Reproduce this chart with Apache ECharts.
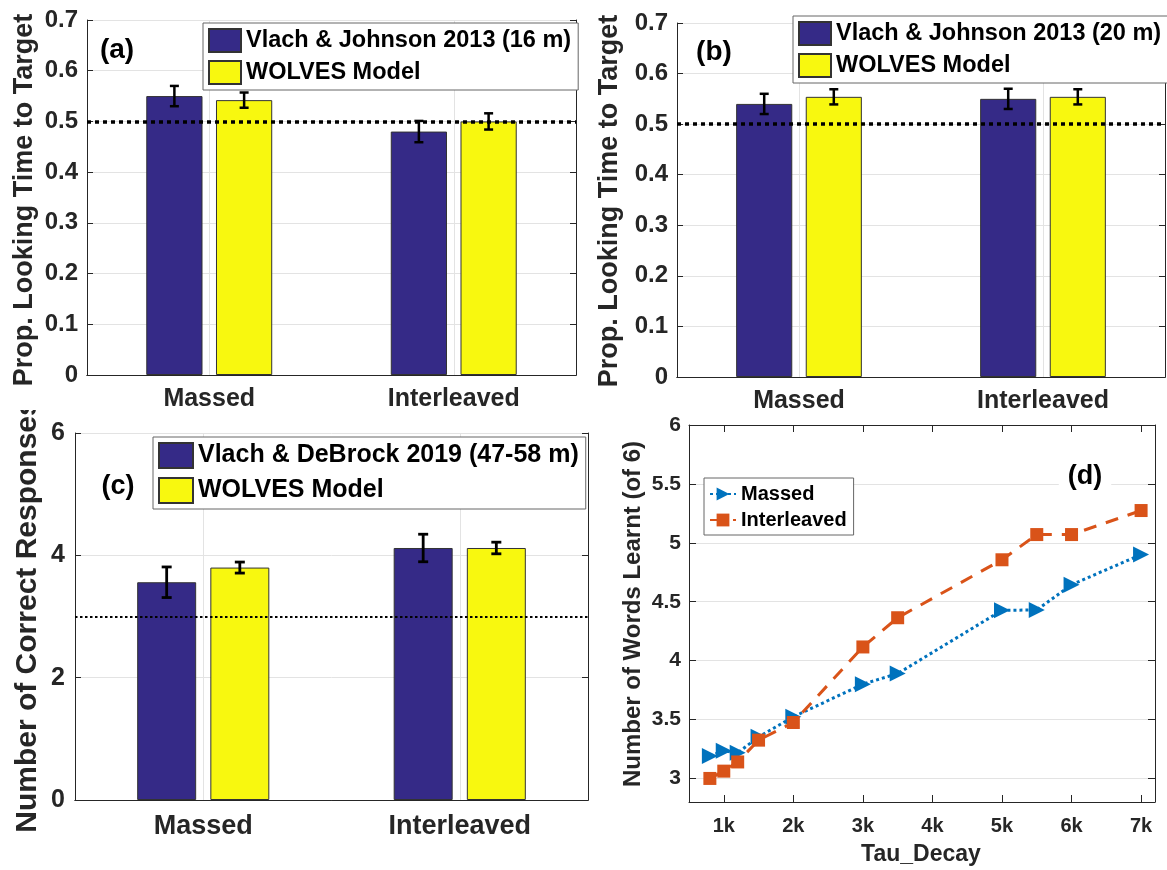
<!DOCTYPE html>
<html>
<head>
<meta charset="utf-8">
<script src="https://cdn.jsdelivr.net/npm/echarts@6/dist/echarts.min.js"></script>
<style>
  html, body { margin: 0; padding: 0; background: #fff; }
  #chart { width: 1167px; height: 870px; }
</style>
</head>
<body>
<div id="chart"></div>
<script>
// ---- data ----
const groups = ['Massed', 'Interleaved'];

// (a) 16-month-olds: proportion of looking time to target
const vj16 = [0.550, 0.480];
const vj16Err = [0.020, 0.021];
const wolves16 = [0.542, 0.500];
const wolves16Err = [0.015, 0.016];

// (b) 20-month-olds
const vj20 = [0.540, 0.550];
const vj20Err = [0.020, 0.020];
const wolves20 = [0.554, 0.554];
const wolves20Err = [0.015, 0.015];

// (c) number of correct responses (of 6)
const vd = [3.56, 4.12];
const vdErr = [0.25, 0.225];
const wolvesC = [3.80, 4.12];
const wolvesCErr = [0.09, 0.095];

const chanceLooking = 0.5;
const chanceCorrect = 3;

// (d) words learnt vs. decay time constant
const tauDecay = [800, 1000, 1200, 1500, 2000, 3000, 3500, 5000, 5500, 6000, 7000];
const massedWords = [3.19, 3.234, 3.217, 3.353, 3.523, 3.80, 3.89, 4.427, 4.43, 4.644, 4.90];
const interleavedWords = [3.00, 3.062, 3.14, 3.325, 3.475, 4.116, 4.364, 4.856, 5.07, 5.07, 5.274];
const tauTicks = [1000, 2000, 3000, 4000, 5000, 6000, 7000];
const wordTicks = [3, 3.5, 4, 4.5, 5, 5.5, 6];

// ---- styling ----
const FONT = '"Liberation Sans", Arial, Helvetica, sans-serif';
const AX = '#262626';
const GRIDC = '#e3e3e3';
const BLUE = '#352A87';
const YELLOW = '#F8F80F';
const BAR_FRAC = 0.23;
const GAP_FRAC = 0.24;

const names = {
  a: 'Vlach & Johnson 2013 (16 m)',
  b: 'Vlach & Johnson 2013 (20 m)',
  c: 'Vlach & DeBrock 2019 (47-58 m)',
  w: 'WOLVES Model'
};

function catAxes(grid, labelSize, labelMargin) {
  return [
    {
      type: 'category', gridIndex: grid, data: groups, position: 'bottom',
      axisLine: { lineStyle: { color: AX, width: 1 } },
      axisTick: { inside: true, alignWithLabel: true, length: 6, lineStyle: { color: AX } },
      axisLabel: { color: AX, fontSize: labelSize, fontWeight: 'bold', fontFamily: FONT, margin: labelMargin },
      splitLine: { show: false }
    },
    {
      type: 'category', gridIndex: grid, data: groups, position: 'top',
      axisLine: { show: true, lineStyle: { color: AX, width: 1 } },
      axisTick: { inside: true, alignWithLabel: true, length: 6, lineStyle: { color: AX } },
      axisLabel: { show: false },
      splitLine: { show: false }
    }
  ];
}

function valAxes(grid, min, max, interval, labelSize, margin) {
  return [
    {
      type: 'value', gridIndex: grid, position: 'left', min: min, max: max, interval: interval,
      axisLine: { show: true, lineStyle: { color: AX, width: 1 } },
      axisTick: { show: true, inside: true, length: 6, lineStyle: { color: AX } },
      axisLabel: { color: AX, fontSize: labelSize, fontWeight: 'bold', fontFamily: FONT, margin: margin },
      splitLine: { show: true, lineStyle: { color: GRIDC, width: 1 } }
    },
    {
      type: 'value', gridIndex: grid, position: 'right', min: min, max: max, interval: interval,
      axisLine: { show: true, lineStyle: { color: AX, width: 1 } },
      axisTick: { show: true, inside: true, length: 6, lineStyle: { color: AX } },
      axisLabel: { show: false },
      splitLine: { show: false }
    }
  ];
}

function barSeries(name, color, vals, xi, yi, extraMark) {
  return {
    type: 'bar', name: name, xAxisIndex: xi, yAxisIndex: yi, data: vals,
    barWidth: (BAR_FRAC * 100) + '%', barGap: (GAP_FRAC * 100) + '%',
    itemStyle: { color: color, borderColor: '#333', borderWidth: 1 },
    silent: true, animation: false, z: 2,
    markLine: extraMark
  };
}

// light vertical grid lines through the category centres, behind the bars
function categoryGrid(xi, yi) {
  return {
    type: 'custom', xAxisIndex: xi, yAxisIndex: yi, z: 1, silent: true, animation: false,
    data: groups.map((g, i) => [i, 0]),
    encode: { x: 0, y: 1 },
    renderItem: function (params, api) {
      const cs = params.coordSys;
      const x = Math.round(api.coord([api.value(0), 0])[0]) + 0.5;
      return {
        type: 'line',
        shape: { x1: x, y1: cs.y, x2: x, y2: cs.y + cs.height },
        style: { stroke: GRIDC, lineWidth: 1 }
      };
    }
  };
}

function chanceMark(v, width, dash) {
  return {
    silent: true, symbol: 'none', animation: false,
    label: { show: false },
    lineStyle: { color: '#000', width: width, type: dash },
    data: [{ yAxis: v }]
  };
}

function errorSeries(xi, yi, vals, errs, slot, capHalf, lw) {
  return {
    type: 'custom', xAxisIndex: xi, yAxisIndex: yi, z: 6, silent: true, animation: false,
    data: vals.map((v, i) => [i, v, errs[i]]),
    encode: { x: 0, y: 1 },
    renderItem: function (params, api) {
      const i = api.value(0), v = api.value(1), e = api.value(2);
      const band = api.size([1, 0])[0];
      const bw = band * BAR_FRAC, gap = bw * GAP_FRAC;
      const dx = (slot === 0 ? -1 : 1) * (bw + gap) / 2;
      const top = api.coord([i, v + e]);
      const bot = api.coord([i, v - e]);
      const x = top[0] + dx;
      const st = { stroke: '#000', lineWidth: lw };
      return {
        type: 'group',
        children: [
          { type: 'line', shape: { x1: x, y1: top[1], x2: x, y2: bot[1] }, style: st },
          { type: 'line', shape: { x1: x - capHalf, y1: top[1], x2: x + capHalf, y2: top[1] }, style: st },
          { type: 'line', shape: { x1: x - capHalf, y1: bot[1], x2: x + capHalf, y2: bot[1] }, style: st }
        ]
      };
    }
  };
}

function barLegend(left, top, first, size, iw, ih, gap) {
  return {
    orient: 'vertical', left: left, top: top, selectedMode: false, z: 20,
    data: [{ name: first, icon: 'rect' }, { name: names.w, icon: 'rect' }],
    itemWidth: iw, itemHeight: ih, itemGap: gap,
    padding: [5, 7, 5, 5],
    backgroundColor: '#fff', borderColor: '#666', borderWidth: 1,
    textStyle: { fontSize: size, fontWeight: 'bold', fontFamily: FONT, color: '#000' }
  };
}

const xAxes = [].concat(
  catAxes(0, 25, 12),
  catAxes(1, 25, 12),
  catAxes(2, 27, 13),
  [
    {
      type: 'value', gridIndex: 3, position: 'bottom', min: 500, max: 7200,
      axisLine: { show: true, lineStyle: { color: AX } },
      axisTick: { show: true, inside: true, length: 7, customValues: tauTicks, lineStyle: { color: AX } },
      axisLabel: { customValues: tauTicks, color: AX, fontSize: 20, fontWeight: 'bold', fontFamily: FONT, margin: 14,
                   formatter: v => (v / 1000) + 'k' },
      splitLine: { show: false }
    },
    {
      type: 'value', gridIndex: 3, position: 'top', min: 500, max: 7200,
      axisLine: { show: true, lineStyle: { color: AX } },
      axisTick: { show: true, inside: true, length: 7, customValues: tauTicks, lineStyle: { color: AX } },
      axisLabel: { show: false },
      splitLine: { show: false }
    }
  ]
);

const yAxes = [].concat(
  valAxes(0, 0, 0.7, 0.1, 24, 9),
  valAxes(1, 0, 0.7, 0.1, 24, 9),
  valAxes(2, 0, 6, 2, 25, 10),
  [
    {
      type: 'value', gridIndex: 3, position: 'left', min: 2.8, max: 6,
      axisLine: { show: true, lineStyle: { color: AX } },
      axisTick: { show: true, inside: true, length: 7, customValues: wordTicks, lineStyle: { color: AX } },
      axisLabel: { customValues: wordTicks, color: AX, fontSize: 21, fontWeight: 'bold', fontFamily: FONT, margin: 8 },
      splitLine: { show: true, lineStyle: { color: GRIDC } }
    },
    {
      type: 'value', gridIndex: 3, position: 'right', min: 2.8, max: 6,
      axisLine: { show: true, lineStyle: { color: AX } },
      axisTick: { show: true, inside: true, length: 7, customValues: wordTicks, lineStyle: { color: AX } },
      axisLabel: { show: false },
      splitLine: { show: false }
    }
  ]
);

const series = [
  // (a)
  categoryGrid(0, 0),
  barSeries(names.a, BLUE, vj16, 0, 0),
  barSeries(names.w, YELLOW, wolves16, 0, 0, chanceMark(chanceLooking, 3.5, [4, 4])),
  errorSeries(0, 0, vj16, vj16Err, 0, 4.5, 2.5),
  errorSeries(0, 0, wolves16, wolves16Err, 1, 4.5, 2.5),
  // (b)
  categoryGrid(2, 2),
  barSeries(names.b, BLUE, vj20, 2, 2),
  barSeries(names.w, YELLOW, wolves20, 2, 2, chanceMark(chanceLooking, 3.5, [4, 4])),
  errorSeries(2, 2, vj20, vj20Err, 0, 4.5, 2.5),
  errorSeries(2, 2, wolves20, wolves20Err, 1, 4.5, 2.5),
  // (c)
  categoryGrid(4, 4),
  barSeries(names.c, BLUE, vd, 4, 4),
  barSeries(names.w, YELLOW, wolvesC, 4, 4, chanceMark(chanceCorrect, 2.2, [2.5, 2.5])),
  errorSeries(4, 4, vd, vdErr, 0, 5, 2.8),
  errorSeries(4, 4, wolvesC, wolvesCErr, 1, 5, 2.8),
  // (d)
  {
    type: 'line', name: 'Massed', xAxisIndex: 6, yAxisIndex: 6,
    data: tauDecay.map((t, i) => [t, massedWords[i]]),
    symbol: 'path://M0,0L10,5L0,10Z', symbolSize: 16, showSymbol: true,
    itemStyle: { color: '#0072BD' },
    lineStyle: { color: '#0072BD', width: 3, type: [3, 3] },
    silent: true, animation: false, z: 3
  },
  {
    type: 'line', name: 'Interleaved', xAxisIndex: 6, yAxisIndex: 6,
    data: tauDecay.map((t, i) => [t, interleavedWords[i]]),
    symbol: 'rect', symbolSize: 13, showSymbol: true,
    itemStyle: { color: '#D95319' },
    lineStyle: { color: '#D95319', width: 3, type: [13, 10] },
    silent: true, animation: false, z: 4
  }
];

const txt = (x, y, text, size, opts) => Object.assign({
  type: 'text', x: x, y: y,
  style: Object.assign({
    text: text, fontSize: size, fontWeight: 'bold', fontFamily: FONT,
    fill: AX, align: 'center', verticalAlign: 'middle'
  }, (opts && opts.style) || {})
}, (opts && opts.el) || {});

const option = {
  backgroundColor: '#fff',
  animation: false,
  grid: [
    { left: 87, top: 20, width: 489, height: 355 },
    { left: 677, top: 23, width: 488, height: 354 },
    { left: 75, top: 433, width: 513, height: 367 },
    { left: 689, top: 425, width: 466, height: 377 }
  ],
  xAxis: xAxes,
  yAxis: yAxes,
  legend: [
    barLegend(203, 23, names.a, 23.5, 32, 23, 7),
    barLegend(793, 16, names.b, 23.5, 32, 23, 7),
    barLegend(153, 437, names.c, 25, 34, 25, 8),
    {
      orient: 'vertical', left: 704, top: 478, selectedMode: false, z: 20,
      data: ['Massed', 'Interleaved'],
      itemWidth: 26, itemHeight: 16, itemGap: 6,
      padding: [6, 7, 5, 5],
      backgroundColor: '#fff', borderColor: '#666', borderWidth: 1,
      textStyle: { fontSize: 20, fontWeight: 'bold', fontFamily: FONT, color: '#000' }
    }
  ],
  series: series,
  graphic: [
    // axis titles
    txt(25, 200, 'Prop. Looking Time to Target', 27, { el: { rotation: Math.PI / 2 } }),
    txt(610, 201, 'Prop. Looking Time to Target', 27, { el: { rotation: Math.PI / 2 } }),
    txt(28, 616, 'Number of Correct Responses', 30, { el: { rotation: Math.PI / 2 } }),
    // the (c) title runs past the top of its panel and is cut there
    { type: 'rect', shape: { x: 0, y: 393, width: 62, height: 17 }, style: { fill: '#fff' } },
    txt(633, 614, 'Number of Words Learnt (of 6)', 24, { el: { rotation: Math.PI / 2 } }),
    txt(921, 855, 'Tau_Decay', 23),
    // panel letters
    txt(117, 50, '(a)', 28, { style: { fill: '#000' } }),
    txt(714, 52, '(b)', 28, { style: { fill: '#000' } }),
    txt(118, 487, '(c)', 27, { style: { fill: '#000' } }),
    txt(1085, 477, '(d)', 27, { style: { fill: '#000', backgroundColor: '#fff', padding: [2, 9] }, el: { z: 10 } })
  ]
};

const chart = echarts.init(document.getElementById('chart'), null, { renderer: 'canvas' });
chart.setOption(option);
</script>
</body>
</html>
